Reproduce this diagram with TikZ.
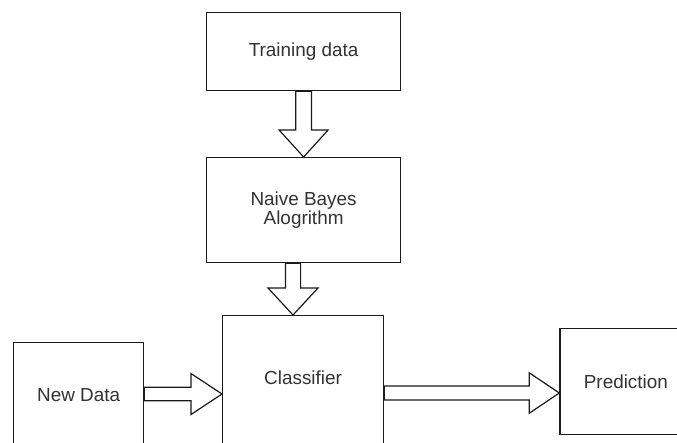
\documentclass[tikz,border=0pt]{standalone}
\usepackage{fontspec}
\setmainfont{Liberation Sans}
\usetikzlibrary{calc}
\definecolor{lineclr}{HTML}{1A1A1A}
\definecolor{txtclr}{HTML}{333333}
\tikzset{
  box/.style={draw=lineclr, line width=1.2pt, fill=white, inner sep=0pt, anchor=north west,
    text=txtclr, align=center, font=\fontsize{18.9}{19.5}\selectfont},
  txt/.style={text=txtclr, inner sep=0pt, font=\fontsize{18.9}{19.5}\selectfont},
  blk/.style={draw=lineclr, line width=1.2pt, fill=white, line join=miter}
}
% vertical block arrow: #1 start, #2 tip, #3 shaft half width, #4 head half width, #5 head length
\newcommand\varrow[5]{%
  \draw[blk] let \p1=(#1), \p2=(#2) in
    (\x2-#3pt,\y1) -- (\x2-#3pt,\y2+#5pt) -- (\x2-#4pt,\y2+#5pt) -- (\x2,\y2)
    -- (\x2+#4pt,\y2+#5pt) -- (\x2+#3pt,\y2+#5pt) -- (\x2+#3pt,\y1) -- cycle;}
% horizontal block arrow to the right
\newcommand\harrow[5]{%
  \draw[blk] let \p1=(#1), \p2=(#2) in
    (\x1,\y2+#3pt) -- (\x2-#5pt,\y2+#3pt) -- (\x2-#5pt,\y2+#4pt) -- (\x2,\y2)
    -- (\x2-#5pt,\y2-#4pt) -- (\x2-#5pt,\y2-#3pt) -- (\x1,\y2-#3pt) -- cycle;}
\begin{document}
\begin{tikzpicture}[x=1pt,y=-1pt]
  \useasboundingbox (0,0) rectangle (677,442);
  \clip (0,0) rectangle (677,442);
  \fill[white] (0,0) rectangle (677,442);

  \node[box, minimum width=194pt, minimum height=78pt] (train) at (206,12) {Training data};
  \node[box, minimum width=194pt, minimum height=105pt] (nb) at (206,157) {Naive Bayes\\Alogrithm};
  \node[box, minimum width=161pt, minimum height=140pt,
        label={[txt, yshift=8pt]center:Classifier}] (cls) at (222,315) {};
  \node[box, minimum width=130pt, minimum height=104pt] (nd) at (13,342) {New Data};
  \node[box, minimum width=132pt, minimum height=106pt] (pred) at (559.3,328) {Prediction};

  \varrow{train.south}{nb.north}{7.8}{24.5}{27}
  \varrow{nb.south}{293,0 |- cls.north}{7.6}{25}{27}
  \harrow{nd.east}{cls.west |- 0,394}{6.8}{20.5}{31}
  \harrow{cls.east}{pred.west |- 0,393}{7}{20.2}{30}
\end{tikzpicture}
\end{document}
